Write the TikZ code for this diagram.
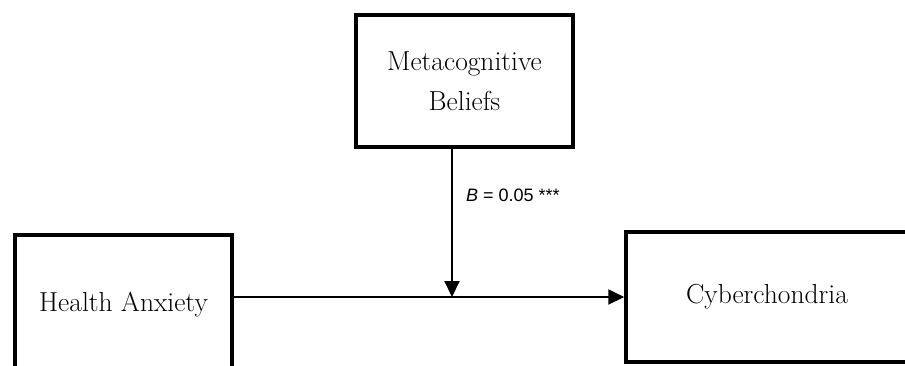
\documentclass[tikz,border=0pt]{standalone}
\usepackage{fontspec}
\newfontfamily\labelfont{Liberation Sans}
\usetikzlibrary{arrows.meta}
\begin{document}
\begin{tikzpicture}[x=1pt,y=-1pt,
  box/.style={draw=black, line width=3.5pt, fill=white, rectangle, inner sep=0pt, align=center,
    font=\fontsize{27.5}{40}\selectfont},
  conn/.style={line width=2pt, -{Triangle[length=16pt,width=15pt]}},
  lbl/.style={font=\labelfont\fontsize{18}{22}\selectfont, anchor=west, inner sep=0pt}]
\useasboundingbox (0,0) rectangle (905,365);
\clip (0,0) rectangle (905,365);
\fill[white] (0,0) rectangle (905,365);
\node[box, minimum width=217pt, minimum height=132pt] (meta) at (464.5,81) {Metacognitive\\Beliefs};
\node[box, minimum width=217pt, minimum height=140pt] (ha) at (123.5,305) {Health Anxiety};
\node[box, minimum width=282pt, minimum height=130pt] (cy) at (767,297) {Cyberchondria};
\coordinate (m) at (452,297);
\draw[conn] (ha.east |- m) -- (cy.west |- m);
\draw[conn] (meta.south -| m) -- (m);
\node[lbl] (b) at (466,195) {\textit{B} = 0.05 ***};
\end{tikzpicture}
\end{document}
